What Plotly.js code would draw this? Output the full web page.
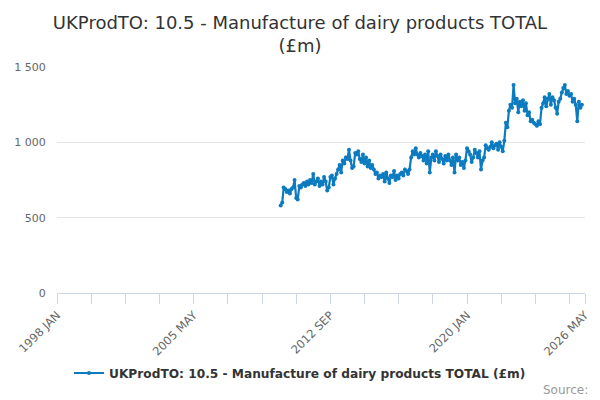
<!DOCTYPE html>
<html>
<head>
<meta charset="utf-8">
<script src="https://cdn.plot.ly/plotly-3.0.1.min.js"></script>
<style>
  body { margin: 0; }
  #chart { width: 600px; height: 400px; }
</style>
</head>
<body>
<div id="chart"></div>
<script>
// first month of the series, one value per month after that
var inicio = [2010, 1];

var valores = [
    // 2010
    580, 600, 700, 690, 670, 680, 660, 690, 700, 750, 630, 620,
    // 2011
    710, 700, 720, 730, 710, 740, 720, 750, 730, 790, 720, 740,
    // 2012
    760, 710, 740, 720, 770, 740, 680, 700, 770, 780, 720, 760,
    // 2013
    790, 820, 850, 800, 880, 860, 900, 890, 950, 880, 830, 840,
    // 2014
    930, 920, 940, 890, 870, 920, 860, 900, 840, 880, 830, 850,
    // 2015
    820, 790, 800, 760, 780, 770, 790, 740, 800, 760, 730, 780,
    // 2016
    770, 810, 750, 780, 760, 790, 800, 780, 820, 810, 790, 820,
    // 2017
    900, 940, 920, 960, 920, 900, 930, 910, 880, 920, 860, 940,
    // 2018
    800, 900, 920, 880, 940, 910, 870, 920, 890, 860, 910, 880,
    // 2019
    920, 880, 850, 900, 800, 920, 880, 900, 850, 870, 830, 880,
    // 2020
    960, 940, 920, 870, 900, 950, 930, 900, 940, 820, 880, 900,
    // 2021
    980, 960, 950, 970, 1000, 960, 980, 990, 950, 1000, 970, 940,
    // 2022
    1010, 1130, 1100, 1210, 1250, 1230, 1380, 1260, 1290, 1200, 1270, 1240,
    // 2023
    1280, 1210, 1260, 1180, 1200, 1140, 1150, 1130, 1120, 1110, 1140, 1120,
    // 2024
    1230, 1260, 1300, 1240, 1290, 1320, 1250, 1300, 1280, 1230, 1190, 1270,
    // 2025
    1290, 1330, 1360, 1380, 1320, 1340, 1310, 1320, 1270, 1290, 1250, 1140,
    // 2026
    1270, 1230, 1250
];

var meses = ['JAN','FEB','MAR','APR','MAY','JUN','JUL','AUG','SEP','OCT','NOV','DEC'];
var ejeInicio = [1998, 1];
var ejeFin = [2026, 5];
var pasoTicks = 22;   // months between ticks
var cadaEtiqueta = 4; // label every 4th tick

function fechaMes(anio, mes){
    var total = anio * 12 + (mes - 1);
    var a = Math.floor(total / 12);
    var m = total % 12 + 1;
    return a + '-' + (m < 10 ? '0' + m : m) + '-01';
}

function etiquetaMes(anio, mes){
    var total = anio * 12 + (mes - 1);
    return Math.floor(total / 12) + ' ' + meses[total % 12];
}

var fechas = valores.map(function(v, i){
    return fechaMes(inicio[0], inicio[1] + i);
});

var tickvals = [];
var ticktext = [];
var totalMeses = (ejeFin[0] - ejeInicio[0]) * 12 + (ejeFin[1] - ejeInicio[1]);
for(var k = 0; k * pasoTicks < totalMeses; k++){
    tickvals.push(fechaMes(ejeInicio[0], ejeInicio[1] + k * pasoTicks));
    ticktext.push(k % cadaEtiqueta == 0 ? etiquetaMes(ejeInicio[0], ejeInicio[1] + k * pasoTicks) : '');
}
tickvals.push(fechaMes(ejeFin[0], ejeFin[1]));
ticktext.push(etiquetaMes(ejeFin[0], ejeFin[1]));

var nombre = 'UKProdTO: 10.5 - Manufacture of dairy products TOTAL (£m)';

var trace1 = {
    type: 'scatter',
    mode: 'lines+markers',
    name: nombre,
    x: fechas,
    y: valores,
    line: {color: '#0c7bc0', width: 2.2},
    marker: {color: '#0c7bc0', size: 4}
};

var layout = {
    width: 600,
    height: 400,
    font: {family: 'DejaVu Sans, sans-serif', color: '#666666'},
    paper_bgcolor: '#ffffff',
    plot_bgcolor: '#ffffff',
    separators: '. ',
    margin: {l: 57, r: 15, t: 67, b: 107, autoexpand: false},
    title: {
        text: 'UKProdTO: 10.5 - Manufacture of dairy products TOTAL<br>(£m)',
        font: {size: 18, color: '#333333'},
        x: 0.5,
        xanchor: 'center',
        y: 0.928,
        yref: 'container',
        yanchor: 'middle'
    },
    xaxis: {
        type: 'date',
        automargin: false,
        range: [fechaMes(ejeInicio[0], ejeInicio[1]), fechaMes(ejeFin[0], ejeFin[1])],
        tickmode: 'array',
        tickvals: tickvals,
        ticktext: ticktext,
        tickangle: -45,
        ticks: 'outside',
        ticklen: 10,
        tickcolor: '#ccd6eb',
        showline: true,
        linecolor: '#ccd6eb',
        linewidth: 1,
        showgrid: false,
        zeroline: false,
        tickfont: {size: 11.5, color: '#666666'}
    },
    yaxis: {
        automargin: false,
        range: [0, 1500],
        tickvals: [0, 500, 1000, 1500],
        tickformat: ',d',
        showgrid: true,
        gridcolor: '#e6e6e6',
        zeroline: false,
        showline: false,
        ticks: 'outside',
        ticklen: 8,
        tickcolor: 'rgba(0,0,0,0)',
        tickfont: {size: 11, color: '#666666'}
    },
    showlegend: true,
    legend: {
        orientation: 'h',
        x: 0.5,
        xanchor: 'center',
        xref: 'container',
        y: 0.0675,
        yref: 'container',
        yanchor: 'middle',
        itemwidth: 30,
        font: {size: 12.2, color: '#333333', weight: 'bold'}
    },
    annotations: [{
        text: 'Source:',
        xref: 'paper',
        yref: 'paper',
        x: 1.01,
        y: -0.429,
        xanchor: 'right',
        yanchor: 'middle',
        showarrow: false,
        font: {size: 12, color: '#999999'}
    }]
};

var config = {staticPlot: true};

Plotly.newPlot('chart', [trace1], layout, config);
</script>
</body>
</html>
